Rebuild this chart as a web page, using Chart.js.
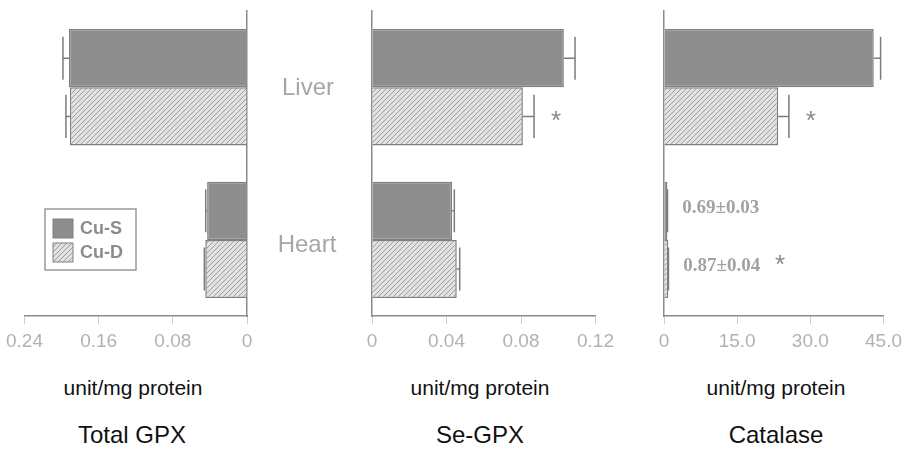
<!DOCTYPE html>
<html>
<head>
<meta charset="utf-8">
<script src="https://cdn.jsdelivr.net/npm/chart.js@4.4.0/dist/chart.umd.min.js"></script>
<style>
  body { margin: 0; background: #fff; }
  #page { position: relative; width: 908px; height: 452px; overflow: hidden; font-family: "Liberation Sans", Arial, sans-serif; }
  canvas { position: absolute; top: 0; }
  .txt { position: absolute; width: 300px; text-align: center; white-space: nowrap; }
  .organ { font-size: 24px; line-height: 24px; color: #a6a6a6; }
  .unit { font-size: 21px; line-height: 21px; color: #111; }
  .title { font-size: 24px; line-height: 24px; color: #111; }
</style>
</head>
<body>
<div id="page">
  <canvas id="chartCanvas1" width="280" height="360" style="left:0px"></canvas>
  <canvas id="chartCanvas2" width="290" height="360" style="left:330px"></canvas>
  <canvas id="chartCanvas3" width="288" height="360" style="left:620px"></canvas>

  <div class="txt organ" style="left:158px; top:75px">Liver</div>
  <div class="txt organ" style="left:157px; top:232px">Heart</div>

  <div class="txt unit" style="left:-17px; top:377px">unit/mg protein</div>
  <div class="txt unit" style="left:330px; top:377px">unit/mg protein</div>
  <div class="txt unit" style="left:626px; top:377px">unit/mg protein</div>

  <div class="txt title" style="left:-18px; top:423px">Total GPX</div>
  <div class="txt title" style="left:330px; top:423px">Se-GPX</div>
  <div class="txt title" style="left:626px; top:423px">Catalase</div>
</div>
<script>
// categories and groups
var tissues = ["Liver", "Heart"];
var groups = ["Cu-S", "Cu-D"];

// Total GPX (unit/mg protein)
var totalGpxS = [0.192, 0.043];
var totalGpxSErr = [0.0065, 0.0015];
var totalGpxD = [0.191, 0.045];
var totalGpxDErr = [0.0043, 0.001];

// Se-GPX
var seGpxS = [0.103, 0.043];
var seGpxSErr = [0.006, 0.0012];
var seGpxD = [0.081, 0.0455];
var seGpxDErr = [0.006, 0.0016];
var seGpxDSig = [true, false];

// Catalase
var catalaseS = [43.0, 0.69];
var catalaseSErr = [1.4, 0.03];
var catalaseD = [23.4, 0.87];
var catalaseDErr = [2.2, 0.04];
var catalaseDSig = [true, true];
var catalaseNote = [false, true]; // heart values too small to see, written out

// hatch for Cu-D
function hatch() {
  var s = 5;
  var c = document.createElement("canvas");
  c.width = s; c.height = s;
  var p = c.getContext("2d");
  p.fillStyle = "#e2e2e2";
  p.fillRect(0, 0, s, s);
  p.strokeStyle = "#9c9c9c";
  p.lineWidth = 1;
  p.beginPath();
  p.moveTo(0, s); p.lineTo(s, 0);
  p.moveTo(-1, 1); p.lineTo(1, -1);
  p.moveTo(s - 1, s + 1); p.lineTo(s + 1, s - 1);
  p.stroke();
  return document.createElement("canvas").getContext("2d").createPattern(c, "repeat");
}
var hatchFill = hatch();
var solidFill = "#8e8e8e";

// error bars, star marks and small value notes
var errorBars = {
  id: "errorBars",
  afterDatasetsDraw: function (chart) {
    var ctx = chart.ctx;
    var xs = chart.scales.x;
    chart.data.datasets.forEach(function (ds, di) {
      var meta = chart.getDatasetMeta(di);
      meta.data.forEach(function (bar, i) {
        var v = ds.data[i], e = ds.errors[i];
        var x0 = xs.getPixelForValue(v);
        var x1 = xs.getPixelForValue(v + e);
        var y = bar.y;
        var cap = bar.height * 0.37;
        ctx.save();
        ctx.strokeStyle = "#7c7c7c";
        ctx.lineWidth = 1.5;
        ctx.beginPath();
        ctx.moveTo(x0, y); ctx.lineTo(x1, y);
        ctx.moveTo(x1, y - cap); ctx.lineTo(x1, y + cap);
        ctx.stroke();
        var end = x1 + 22;
        var starY = y - 2;
        if (ds.notes && ds.notes[i]) {
          ctx.font = "bold 19px 'Liberation Serif'";
          ctx.fillStyle = "#a2a2a2";
          ctx.textBaseline = "alphabetic";
          ctx.textAlign = "left";
          var t = v.toFixed(2) + "\u00b1" + e.toFixed(2);
          ctx.fillText(t, x0 + 15, y + 2);
          end = x0 + 15 + ctx.measureText(t).width + 20;
          starY = y - 11;
        }
        if (ds.stars && ds.stars[i]) {
          ctx.font = "26px 'Liberation Sans'";
          ctx.fillStyle = "#8a8a8a";
          ctx.textAlign = "center";
          ctx.textBaseline = "alphabetic";
          ctx.fillText("*", end, starY + 15);
        }
        ctx.restore();
      });
    });
  }
};

var legendBox = {
  id: "legendBox",
  afterDraw: function (chart) {
    var ctx = chart.ctx;
    ctx.save();
    ctx.strokeStyle = "#9a9a9a";
    ctx.lineWidth = 1.5;
    ctx.strokeRect(45, 209, 91, 61);
    chart.data.datasets.forEach(function (ds, i) {
      var y = 219 + i * 24;
      ctx.fillStyle = ds.backgroundColor;
      ctx.fillRect(53, y, 20, 19);
      ctx.strokeStyle = "#808080";
      ctx.lineWidth = 1;
      ctx.strokeRect(53, y, 20, 19);
      ctx.fillStyle = "#8c8c8c";
      ctx.font = "bold 18px 'Liberation Sans'";
      ctx.textBaseline = "middle";
      ctx.textAlign = "left";
      ctx.fillText(ds.label, 80, y + 10);
    });
    ctx.restore();
  }
};

function makeSet(label, values, errs, fill, stars, notes) {
  return {
    label: label,
    data: values,
    errors: errs,
    stars: stars,
    notes: notes,
    backgroundColor: fill,
    borderColor: "#7f7f7f",
    borderWidth: 1.5,
    categoryPercentage: 0.763,
    barPercentage: 1.0
  };
}

function makeChart(id, sets, min, max, step, digits, reverse, pad, plugins) {
  var ctx = document.getElementById(id).getContext("2d");
  return new Chart(ctx, {
    type: "bar",
    data: { labels: tissues, datasets: sets },
    plugins: plugins,
    options: {
      indexAxis: "y",
      responsive: false,
      animation: false,
      devicePixelRatio: 1,
      layout: { padding: pad },
      plugins: { legend: { display: false }, tooltip: { enabled: false } },
      scales: {
        x: {
          type: "linear",
          min: min,
          max: max,
          reverse: reverse,
          border: { display: true, color: "#8a8a8a", width: 1.5 },
          grid: { drawOnChartArea: false, drawTicks: true, tickLength: 8, color: "#cfcfcf" },
          ticks: {
            stepSize: step,
            padding: 6,
            maxRotation: 0,
            autoSkip: false,
            color: "#b2b2b2",
            font: { size: 19, family: "'Liberation Sans'" },
            callback: function (v) { return v === 0 ? "0" : v.toFixed(digits); }
          }
        },
        y: {
          type: "category",
          position: reverse ? "right" : "left",
          border: { display: true, color: "#8a8a8a", width: 1.5 },
          grid: { display: false, drawTicks: false },
          ticks: { display: false }
        }
      }
    }
  });
}

makeChart("chartCanvas1", [
  makeSet(groups[0], totalGpxS, totalGpxSErr, solidFill),
  makeSet(groups[1], totalGpxD, totalGpxDErr, hatchFill)
], 0, 0.24, 0.08, 2, true, { left: 22, right: 33, top: 11, bottom: 1 }, [errorBars, legendBox]);

makeChart("chartCanvas2", [
  makeSet(groups[0], seGpxS, seGpxSErr, solidFill),
  makeSet(groups[1], seGpxD, seGpxDErr, hatchFill, seGpxDSig)
], 0, 0.12, 0.04, 2, false, { left: 42, right: 24, top: 11, bottom: 1 }, [errorBars]);

makeChart("chartCanvas3", [
  makeSet(groups[0], catalaseS, catalaseSErr, solidFill, null, catalaseNote),
  makeSet(groups[1], catalaseD, catalaseDErr, hatchFill, catalaseDSig, catalaseNote)
], 0, 45, 15, 1, false, { left: 44, right: 21, top: 11, bottom: 1 }, [errorBars]);
</script>
</body>
</html>
